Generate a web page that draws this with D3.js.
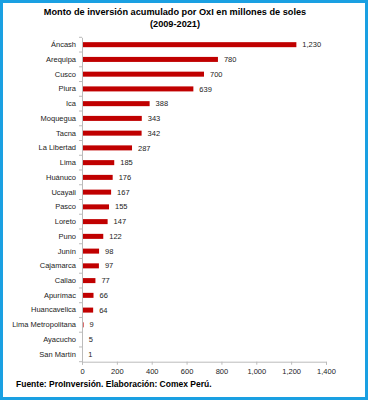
<!DOCTYPE html>
<html><head><meta charset="utf-8">
<script src="https://cdn.jsdelivr.net/npm/d3@7"></script>
<style>html,body{margin:0;padding:0;background:#fff;}svg{display:block;}</style>
</head><body>
<script>
const categories = ["Áncash","Arequipa","Cusco","Piura","Ica","Moquegua","Tacna","La Libertad","Lima","Huánuco","Ucayali","Pasco","Loreto","Puno","Junín","Cajamarca","Callao","Apurímac","Huancavelica","Lima Metropolitana","Ayacucho","San Martín"];
const values = [1230,780,700,639,388,343,342,287,185,176,167,155,147,122,98,97,77,66,64,9,5,1];
const xTicks = [0,200,400,600,800,1000,1200,1400];
const titleLines = ["Monto de inversión acumulado por OxI en millones de soles","(2009-2021)"];
const sourceText = "Fuente: ProInversión. Elaboración: Comex Perú.";

const W = 368, H = 400;
const svg = d3.select("body").append("svg").attr("width", W).attr("height", H);
svg.append("rect").attr("x",1.5).attr("y",1.5).attr("width",W-3).attr("height",H-3)
  .attr("fill","#fff").attr("stroke","#1aa0e2").attr("stroke-width",3);

const x = d3.scaleLinear().domain([0,1400]).range([82,326]);
const y = d3.scaleBand().domain(categories).range([37.3,361.7]).paddingInner(0.66).paddingOuter(0.33);

const font = "Liberation Sans, Arial, sans-serif";
const t = svg.append("text").attr("text-anchor","middle").attr("font-family",font)
  .attr("font-weight","bold").attr("font-size",9.2).attr("fill","#000");
titleLines.forEach((l,i)=>t.append("tspan").attr("x",175).attr("y",15+i*11.5).text(l));

// bars
svg.append("g").selectAll("rect").data(categories).join("rect")
  .attr("x", x(0)).attr("y", d=>y(d))
  .attr("width", (d,i)=>x(values[i])-x(0)).attr("height", y.bandwidth())
  .attr("fill","#c00000");

// value labels
svg.append("g").selectAll("text").data(categories).join("text")
  .attr("x",(d,i)=>x(values[i])+6).attr("y",d=>y(d)+y.bandwidth()/2)
  .attr("dy","0.35em").attr("font-family",font).attr("font-size",7.5).attr("fill","#222")
  .text((d,i)=>d3.format(",")(values[i]));

// y axis
const yAx = svg.append("g").attr("transform",`translate(${x(0)},0)`)
  .call(d3.axisLeft(y).tickSize(0).tickPadding(6));
yAx.select(".domain").attr("stroke","#bbb");
yAx.selectAll("text").attr("font-family",font).attr("font-size",7.5).attr("fill","#222");
// tick marks between categories
const bounds = d3.range(categories.length+1).map(i=>37.3 + i*y.step());
svg.append("g").selectAll("line").data(bounds).join("line")
  .attr("x1",x(0)-3).attr("x2",x(0)).attr("y1",d=>d).attr("y2",d=>d).attr("stroke","#bbb");

// x axis
const xAx = svg.append("g").attr("transform","translate(0,361.7)")
  .call(d3.axisBottom(x).tickValues(xTicks).tickFormat(d3.format(",")).tickSize(3).tickPadding(4));
xAx.select(".domain").attr("stroke","#bbb");
xAx.selectAll("line").attr("stroke","#bbb");
xAx.selectAll("text").attr("font-family",font).attr("font-size",7.5).attr("fill","#222");

svg.append("text").attr("x",16).attr("y",387).attr("font-family",font).attr("font-weight","bold")
  .attr("font-size",8.5).attr("fill","#000").text(sourceText);
</script>
</body></html>
